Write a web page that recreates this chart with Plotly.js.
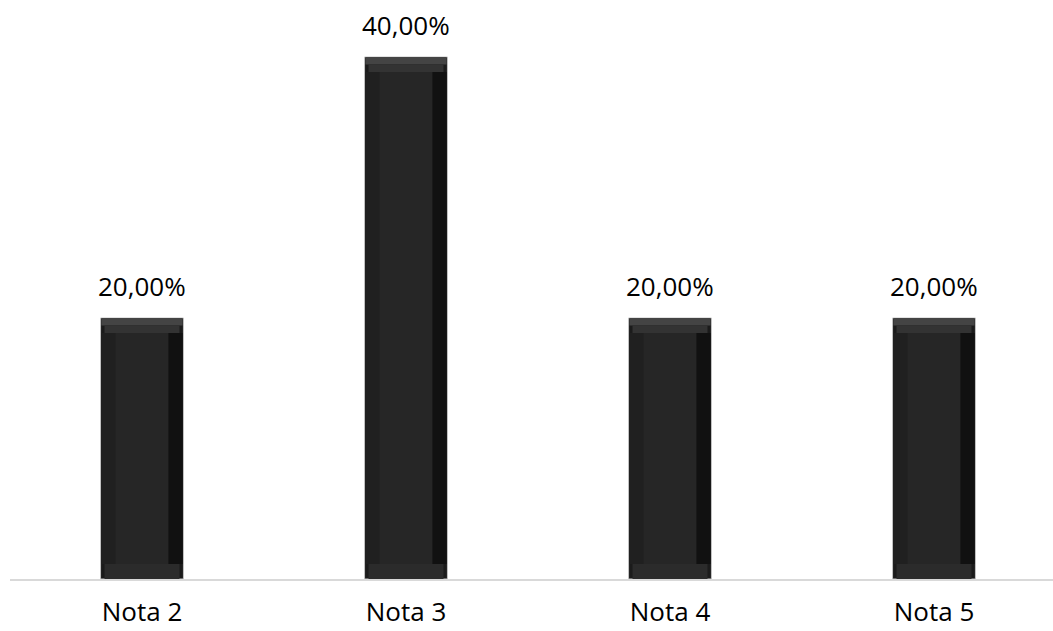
<!DOCTYPE html>
<html>
<head>
<meta charset="utf-8">
<script src="https://cdn.plot.ly/plotly-3.0.1.min.js"></script>
<style>html,body{margin:0;padding:0;background:#fff;overflow:hidden}#chart{width:1053px;height:631px}</style>
</head>
<body>
<div id="chart"></div>
<script>
// Data
const categories = ["Nota 2", "Nota 3", "Nota 4", "Nota 5"];
const percentages = [20, 40, 20, 20];

// Styling constants (bevel look)
const barW = 0.314;
const bevelY = 1.15;   // in value units
const bevelX = 0.057;  // in category units
const FONT = '"Open Sans", "Liberation Sans", sans-serif';

const common = {x: categories, type: 'bar', hoverinfo: 'skip', showlegend: false};

const outer = Object.assign({}, common, {
  y: percentages, width: barW,
  marker: {color: '#1b1b1b', line: {color: '#c4c4c4', width: 1}}
});
const topStrip1 = Object.assign({}, common, {
  y: percentages.map(() => bevelY / 2), base: percentages.map(v => v - bevelY / 2),
  width: barW - 0.006, marker: {color: '#444444', line: {width: 0}}
});
const topStrip2 = Object.assign({}, common, {
  y: percentages.map(() => bevelY / 2), base: percentages.map(v => v - bevelY),
  width: barW - 0.03, marker: {color: '#333333', line: {width: 0}}
});
const bottomStrip = Object.assign({}, common, {
  y: percentages.map(() => bevelY), base: percentages.map(() => 0),
  width: barW - 0.03, marker: {color: '#2b2b2b', line: {width: 0}}
});
const leftStrip = Object.assign({}, common, {
  y: percentages.map(v => v - 2 * bevelY), base: percentages.map(() => bevelY),
  width: bevelX, offset: -barW / 2 + 0.003, marker: {color: '#202020', line: {width: 0}}
});
const rightStrip = Object.assign({}, common, {
  y: percentages.map(v => v - 2 * bevelY), base: percentages.map(() => bevelY),
  width: bevelX, offset: barW / 2 - bevelX - 0.003, marker: {color: '#111111', line: {width: 0}}
});
const face = Object.assign({}, common, {
  y: percentages.map(v => v - 2 * bevelY), base: percentages.map(() => bevelY),
  width: barW - 2 * bevelX, marker: {color: '#262626', line: {width: 0}}
});

const annotations = categories.map((c, i) => ({
  x: c, y: percentages[i], xref: 'x', yref: 'y',
  text: percentages[i].toFixed(2).replace('.', ',') + '%',
  showarrow: false, yanchor: 'bottom', yshift: 12,
  font: {family: FONT, size: 26, color: '#000000'}
}));

const layout = {
  width: 1053, height: 631,
  margin: {l: 10, r: 0, t: 0, b: 52, pad: 0},
  paper_bgcolor: '#ffffff', plot_bgcolor: '#ffffff',
  barmode: 'overlay',
  separators: ',.',
  xaxis: {
    type: 'category', range: [-0.5, -0.5 + 1043 / 264],
    showline: true, linecolor: '#d9d9d9', linewidth: 1.5,
    showgrid: false, zeroline: false, ticks: '', ticklabelstandoff: 9,
    tickfont: {family: FONT, size: 26, color: '#000000'}, fixedrange: true
  },
  yaxis: {
    range: [0, 579 / 261 * 20], visible: false, showgrid: false, zeroline: false, fixedrange: true
  },
  annotations: annotations,
  font: {family: FONT}
};

Plotly.newPlot('chart', [outer, topStrip1, topStrip2, bottomStrip, leftStrip, rightStrip, face], layout, {displayModeBar: false, staticPlot: true});
</script>
</body>
</html>
